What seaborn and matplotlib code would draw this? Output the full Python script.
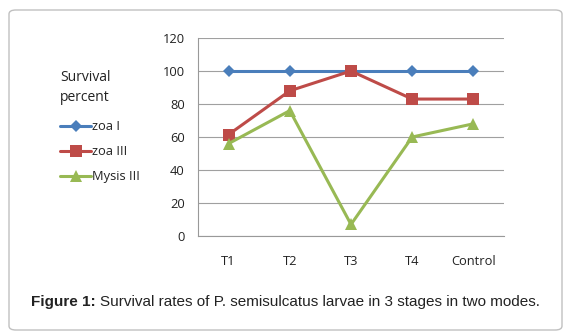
import matplotlib
matplotlib.use("Agg")
import matplotlib.pyplot as plt
import seaborn as sns
import pandas as pd
from matplotlib.patches import FancyBboxPatch

categories = ["T1", "T2", "T3", "T4", "Control"]
zoa_I = [100, 100, 100, 100, 100]
zoa_III = [61.5, 88, 100, 83, 83]
mysis_III = [56, 76, 7, 60, 68]
series_names = ["zoa I", "zoa III", "Mysis III"]
yticks = [0, 20, 40, 60, 80, 100, 120]

df = pd.DataFrame({
    "cat": categories * 3,
    "val": zoa_I + zoa_III + mysis_III,
    "series": [series_names[0]] * 5 + [series_names[1]] * 5 + [series_names[2]] * 5,
})

sns.set_theme(style="white")
plt.rcParams["font.family"] = ["Open Sans", "DejaVu Sans"]

fig = plt.figure(figsize=(5.73, 3.35), dpi=100)
W, H = 573, 335
ax = fig.add_axes([198 / W, 1 - 236 / H, (504 - 198) / W, (236 - 38) / H])

palette = {"zoa I": "#4A7EBB", "zoa III": "#BE4B48", "Mysis III": "#98B954"}
markers = {"zoa I": "D", "zoa III": "s", "Mysis III": "^"}
sizes_m = {"zoa I": 6, "zoa III": 9, "Mysis III": 9}

for name in series_names:
    sub = df[df["series"] == name]
    sns.lineplot(data=sub, x="cat", y="val", color=palette[name], marker=markers[name],
                 markersize=sizes_m[name], markeredgewidth=0, linewidth=2.2,
                 label=name, ax=ax, sort=False)

ax.set_xlim(-0.5, 4.5)
ax.set_ylim(0, 120)
ax.set_yticks(yticks)
ax.set_yticklabels([str(v) for v in yticks], fontsize=9.3, color="#222222")
ax.set_xticks(range(len(categories)))
ax.set_xticklabels(categories, fontsize=9.3, color="#222222")
ax.set_xlabel("")
ax.set_ylabel("")
ax.yaxis.grid(True, color="#a0a0a0", linewidth=0.8)
ax.set_axisbelow(True)
for s in ["top", "right"]:
    ax.spines[s].set_visible(False)
ax.spines["left"].set_color("#999999")
ax.spines["bottom"].set_color("#999999")
ax.spines["left"].set_linewidth(0.8)
ax.spines["bottom"].set_linewidth(0.8)
ax.tick_params(axis="y", length=0, pad=9.5)
ax.tick_params(axis="x", length=0, pad=13.5)
ax.set_xticks([i - 0.5 for i in range(len(categories) + 1)], minor=True)
ax.tick_params(axis="x", which="minor", direction="out", length=4, color="#999999", width=0.8)

leg = ax.legend(title="Survival\npercent", loc="upper left", bbox_to_anchor=(55 / W, 1 - 65 / H),
                bbox_transform=fig.transFigure, frameon=False, fontsize=9.3,
                title_fontsize=10, alignment="left", labelspacing=0.92, handlelength=2.4,
                handletextpad=0.1, borderaxespad=0)
for t in leg.get_texts():
    t.set_color("#222222")
leg.get_title().set_color("#222222")
leg.get_title().set_linespacing(1.45)
leg._legend_box.sep = 11

box = FancyBboxPatch((9 / W, 5 / H), (562 - 9) / W, (325 - 5) / H,
                     boxstyle="round,pad=0,rounding_size=0.012", transform=fig.transFigure,
                     facecolor="none", edgecolor="#c0c0c0", linewidth=1.0)
fig.patches.append(box)

fig.text(31 / W, 1 - 302 / H, "Figure 1:", fontsize=11, fontweight="bold",
         family="Liberation Sans", color="#222222", va="center", ha="left")
fig.text(100 / W, 1 - 302 / H, "Survival rates of P. semisulcatus larvae in 3 stages in two modes.",
         fontsize=11, family="Liberation Sans", color="#222222", va="center", ha="left")

fig.savefig("out.png", dpi=100)
